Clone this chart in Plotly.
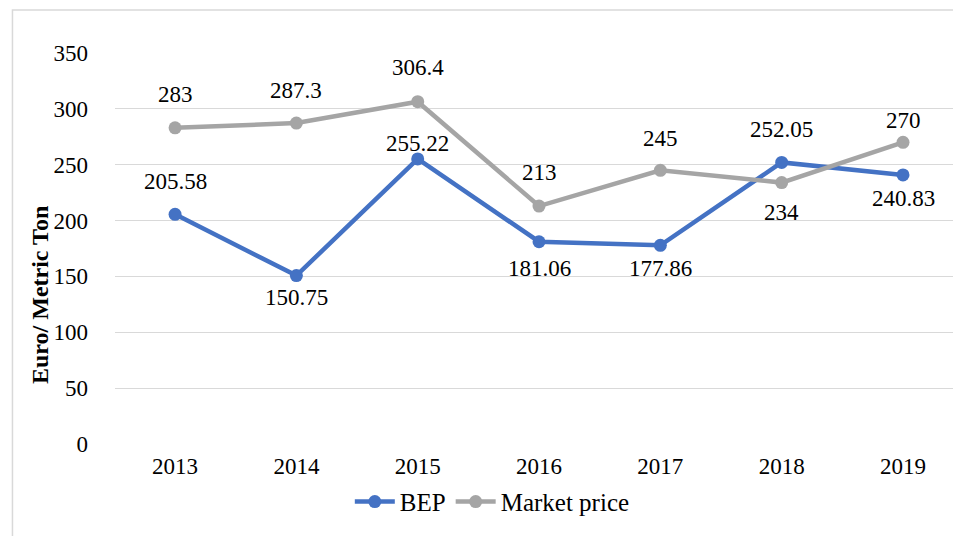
import plotly.graph_objects as go

years = ["2013", "2014", "2015", "2016", "2017", "2018", "2019"]
bep = [205.58, 150.75, 255.22, 181.06, 177.86, 252.05, 240.83]
market = [283, 287.3, 306.4, 213, 245, 234, 270]
bep_labels = ["205.58", "150.75", "255.22", "181.06", "177.86", "252.05", "240.83"]
market_labels = ["283", "287.3", "306.4", "213", "245", "234", "270"]

# label pixel offsets (negative = above point)
bep_off = [-33, 22, -15, 27, 23, -33, 24]
market_off = [-33, -33, -34, -34, -32, 30, -22]

FONT = "'Liberation Serif', 'Times New Roman', 'DejaVu Serif', serif"
BLUE = "#4472C4"
GRAY = "#A5A5A5"

fig = go.Figure()
fig.add_trace(go.Scatter(x=years, y=bep, name="BEP", mode="lines+markers",
                         line=dict(color=BLUE, width=4.5),
                         marker=dict(color=BLUE, size=13)))
fig.add_trace(go.Scatter(x=years, y=market, name="Market price", mode="lines+markers",
                         line=dict(color=GRAY, width=4.5),
                         marker=dict(color=GRAY, size=13)))

annotations = []
for ys, labs, offs in [(bep, bep_labels, bep_off), (market, market_labels, market_off)]:
    for i, (y, t, o) in enumerate(zip(ys, labs, offs)):
        annotations.append(dict(x=i, y=y, text=t, showarrow=False, xref="x", yref="y",
                                yshift=-o, yanchor="middle",
                                font=dict(family=FONT, size=23, color="#000000")))

annotations.append(dict(text="<b>Euro/ Metric Ton</b>", xref="paper", yref="paper",
                        x=-0.0887, y=0.381, textangle=-90, showarrow=False,
                        xanchor="center", yanchor="middle",
                        font=dict(family=FONT, size=24, color="#000000")))

fig.update_layout(
    width=953, height=528,
    margin=dict(l=107, r=0, t=45, b=92),
    paper_bgcolor="white", plot_bgcolor="white",
    font=dict(family=FONT, size=23, color="#000000"),
    showlegend=True,
    legend=dict(orientation="h", x=0.446, y=-0.148, xanchor="center", yanchor="middle",
                font=dict(family=FONT, size=25, color="#000000"), itemwidth=40,
                bgcolor="rgba(0,0,0,0)"),
    annotations=annotations,
    shapes=[dict(type="rect", xref="paper", yref="paper",
                 x0=-0.1212, x1=1.05, y0=-0.3, y1=1.11,
                 line=dict(color="#D9D9D9", width=1.5), fillcolor="rgba(0,0,0,0)", layer="below")],
)
fig.update_xaxes(type="category", range=[-0.495, 6.478], showgrid=False, zeroline=False,
                 showline=False, ticks="", ticklabelstandoff=6,
                 tickfont=dict(family=FONT, size=23, color="#000000"))
fig.update_yaxes(range=[0, 350], dtick=50, tick0=0, showgrid=True, gridcolor="#D9D9D9",
                 gridwidth=1.2, zeroline=False, showline=False, ticks="", ticklabelstandoff=26,
                 tickfont=dict(family=FONT, size=23, color="#000000"))

fig.write_html("out.html")
